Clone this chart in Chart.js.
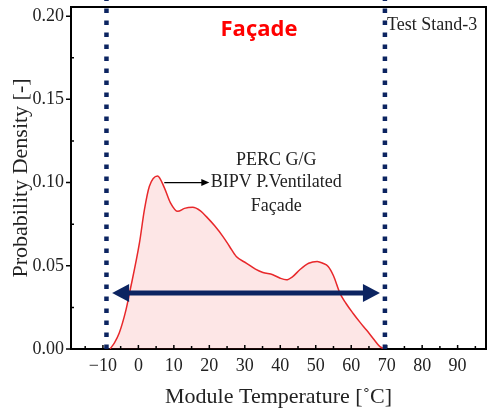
<!DOCTYPE html>
<html>
<head>
<meta charset="utf-8">
<script src="https://cdn.jsdelivr.net/npm/chart.js@4.4.1/dist/chart.umd.min.js"></script>
<style>
  html, body { margin: 0; padding: 0; background: #fff; }
  #wrap { width: 490px; height: 410px; }
</style>
</head>
<body>
<div id="wrap"><canvas id="chart" width="490" height="410"></canvas></div>
<script>
// module temperature (°C) and probability density
const temps = [-8, -6.8, -5.4, -3.5, -2.5, 0.3, 1.7, 3.1, 5.4, 7.3, 9, 11.1, 13, 15.3, 17.5, 19.1,
  21.5, 23.8, 25.7, 27.6, 30.4, 33, 35.1, 37.9, 40, 41.7, 43.5, 45.5, 48, 50.4, 52, 53.5, 55,
  56.8, 58.5, 60.5, 62.5, 64.3, 66.3, 68.1, 69.5];
const density = [0, 0.0036, 0.0096, 0.0235, 0.0336, 0.0637, 0.0837, 0.0978, 0.104, 0.097, 0.088,
  0.0827, 0.0845, 0.0851, 0.083, 0.0797, 0.074, 0.0677, 0.0616, 0.0556, 0.0516, 0.048, 0.046,
  0.0446, 0.0425, 0.0416, 0.0435, 0.0476, 0.0515, 0.0526, 0.0515, 0.0496, 0.044, 0.0336, 0.0275,
  0.0215, 0.016, 0.0114, 0.006, 0.0014, 0];

const xTicks = [-15, -10, -5, 0, 5, 10, 15, 20, 25, 30, 35, 40, 45, 50, 55, 60, 65, 70, 75, 80, 85, 90, 95];
const yTicks = [0, 0.025, 0.05, 0.075, 0.1, 0.125, 0.15, 0.175, 0.2];

// range markers
const boundLines = [-9, 69.5];
const rangeArrowX = [-7.4, 68.1];
const rangeArrowY = 0.0337;
const labelArrowX = [7.3, 20];
const labelArrowY = 0.1;
const noteLines = ["PERC G/G", "BIPV P.Ventilated", "Façade"];

const serif = "'Liberation Serif', 'Times New Roman', serif";
const navy = "#0c2461";

const extras = {
  id: "extras",
  afterDraw(chart) {
    const ctx = chart.ctx;
    const x = chart.scales.x, y = chart.scales.y;
    const area = chart.chartArea;
    ctx.save();

    // frame top + right
    ctx.strokeStyle = "#000";
    ctx.lineWidth = 2;
    ctx.beginPath();
    ctx.moveTo(area.left, area.top);
    ctx.lineTo(area.right, area.top);
    ctx.lineTo(area.right, area.bottom);
    ctx.stroke();

    // ticks: x inward, y major outward / minor inward
    ctx.lineWidth = 1.5;
    ctx.beginPath();
    xTicks.forEach(v => {
      const px = x.getPixelForValue(v);
      const len = v % 10 === 0 ? 4 : 3;
      ctx.moveTo(px, area.bottom);
      ctx.lineTo(px, area.bottom - len);
    });
    yTicks.forEach((v, i) => {
      const py = y.getPixelForValue(v);
      if (i % 2 === 0) {
        ctx.moveTo(area.left, py);
        ctx.lineTo(area.left - 5, py);
      } else {
        ctx.moveTo(area.left, py);
        ctx.lineTo(area.left + 3, py);
      }
    });
    ctx.stroke();

    // dotted bound lines
    ctx.strokeStyle = navy;
    ctx.lineWidth = 4.5;
    ctx.setLineDash([4.5, 7.5]);
    boundLines.forEach(v => {
      const px = x.getPixelForValue(v);
      ctx.beginPath();
      ctx.moveTo(px, area.bottom);
      ctx.lineTo(px, 0);
      ctx.stroke();
    });
    ctx.setLineDash([]);

    // double arrow
    const ax0 = x.getPixelForValue(rangeArrowX[0]);
    const ax1 = x.getPixelForValue(rangeArrowX[1]);
    const ay = y.getPixelForValue(rangeArrowY);
    const hl = 17, hw = 9;
    ctx.fillStyle = navy;
    ctx.lineWidth = 5;
    ctx.beginPath();
    ctx.moveTo(ax0 + hl - 2, ay);
    ctx.lineTo(ax1 - hl + 2, ay);
    ctx.stroke();
    ctx.beginPath();
    ctx.moveTo(ax0, ay);
    ctx.lineTo(ax0 + hl, ay - hw);
    ctx.lineTo(ax0 + hl, ay + hw);
    ctx.closePath();
    ctx.fill();
    ctx.beginPath();
    ctx.moveTo(ax1, ay);
    ctx.lineTo(ax1 - hl, ay - hw);
    ctx.lineTo(ax1 - hl, ay + hw);
    ctx.closePath();
    ctx.fill();

    // label arrow
    const lx0 = x.getPixelForValue(labelArrowX[0]);
    const lx1 = x.getPixelForValue(labelArrowX[1]);
    const ly = y.getPixelForValue(labelArrowY);
    ctx.strokeStyle = "#000";
    ctx.fillStyle = "#000";
    ctx.lineWidth = 1.3;
    ctx.beginPath();
    ctx.moveTo(lx0, ly);
    ctx.lineTo(lx1 - 6, ly);
    ctx.stroke();
    ctx.beginPath();
    ctx.moveTo(lx1, ly);
    ctx.lineTo(lx1 - 8, ly - 3.5);
    ctx.lineTo(lx1 - 8, ly + 3.5);
    ctx.closePath();
    ctx.fill();

    // note text
    ctx.fillStyle = "#222";
    ctx.font = "18px " + serif;
    ctx.textAlign = "center";
    ctx.textBaseline = "middle";
    const noteX = lx1 + 67;
    noteLines.forEach((t, i) => ctx.fillText(t, noteX, ly + (i - 1) * 22 + (i === 2 ? 2 : 0)));

    // Test Stand-3
    ctx.textAlign = "left";
    ctx.font = "18px " + serif;
    ctx.fillText("Test Stand-3", x.getPixelForValue(boundLines[1]) + 2, area.top + 18);

    // Façade title
    ctx.fillStyle = "#ff0000";
    ctx.font = "bold 22px 'Open Sans', sans-serif";
    ctx.textAlign = "center";
    ctx.fillText("Façade", x.getPixelForValue(34), area.top + 23);

    ctx.restore();
  }
};

new Chart(document.getElementById("chart"), {
  type: "line",
  data: {
    datasets: [{
      data: temps.map((t, i) => ({ x: t, y: density[i] })),
      borderColor: "#e8282b",
      borderWidth: 1.5,
      backgroundColor: "rgba(240, 60, 60, 0.13)",
      fill: "origin",
      pointRadius: 0,
      cubicInterpolationMode: "monotone",
    }],
  },
  options: {
    responsive: false,
    animation: false,
    layout: { padding: { top: 7, right: 4, left: 0, bottom: 0 } },
    plugins: { legend: { display: false }, tooltip: { enabled: false } },
    scales: {
      x: {
        type: "linear",
        min: -19,
        max: 98,
        afterBuildTicks: s => { s.ticks = xTicks.map(v => ({ value: v })); },
        afterFit: s => { s.height = 61; s.paddingLeft = 0; s.paddingRight = 0; },
        grid: { display: false, tickLength: 0 },
        border: { display: true, color: "#000", width: 2 },
        ticks: {
          color: "#222",
          font: { family: serif, size: 18 },
          padding: 6,
          maxRotation: 0,
          autoSkip: false,
          callback: v => v % 10 === 0 ? (v < 0 ? "\u2212" + Math.abs(v) : String(v)) : "",
        },
        title: {
          display: true,
          text: "Module Temperature [˚C]",
          color: "#222",
          font: { family: serif, size: 22 },
          padding: { top: 2, bottom: 0 },
        },
      },
      y: {
        min: 0,
        max: 0.2055,
        afterBuildTicks: s => { s.ticks = yTicks.map(v => ({ value: v })); },
        afterFit: s => { s.width = 71; s.paddingTop = 0; s.paddingBottom = 0; },
        grid: { display: false, tickLength: 0 },
        border: { display: true, color: "#000", width: 2 },
        ticks: {
          color: "#222",
          font: { family: serif, size: 18 },
          padding: 7,
          callback: v => Math.round(v * 1000) % 50 === 0 ? v.toFixed(2) : "",
        },
        title: {
          display: true,
          text: "Probability Density [-]",
          color: "#222",
          font: { family: serif, size: 22 },
          padding: { top: 8, bottom: 0 },
        },
      },
    },
  },
  plugins: [extras],
});
</script>
</body>
</html>
